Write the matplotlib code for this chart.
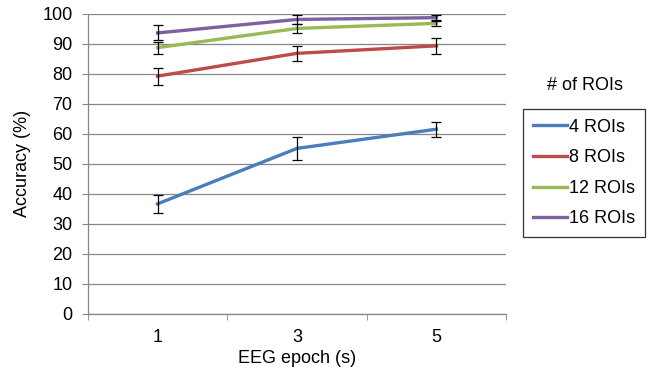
import numpy as np
import matplotlib
matplotlib.use('Agg')
import matplotlib.pyplot as plt

plt.rcParams['font.family'] = ['Liberation Sans', 'DejaVu Sans']

epochs = ['1', '3', '5']
series = ['4 ROIs', '8 ROIs', '12 ROIs', '16 ROIs']
acc_4 = [36.6, 55.1, 61.5]
acc_8 = [79.2, 86.8, 89.3]
acc_12 = [88.7, 95.1, 96.8]
acc_16 = [93.6, 98.1, 98.7]
err_4 = [3.0, 3.9, 2.5]
err_8 = [2.8, 2.6, 2.7]
err_12 = [2.0, 1.5, 1.0]
err_16 = [2.5, 1.4, 1.0]
colors = ['#4A7EBB', '#BE4B48', '#98B954', '#7D60A0']

fig = plt.figure(figsize=(6.6, 3.82), dpi=100)
ax = fig.add_axes([0.133, 0.179, 0.634, 0.785])

x = np.arange(len(epochs))
for vals, errs, lab, col in zip([acc_4, acc_8, acc_12, acc_16],
                                [err_4, err_8, err_12, err_16], series, colors):
    ax.plot(x, vals, color=col, linewidth=2.4, label=lab, zorder=3)
    ax.errorbar(x, vals, yerr=errs, fmt='none', ecolor='black',
                elinewidth=0.9, capsize=3.5, capthick=0.9, zorder=4)

ax.set_xlim(-0.5, 2.5)
ax.set_ylim(0, 100)
ax.set_yticks(np.arange(0, 101, 10))
ax.set_xticks(x)
ax.set_xticklabels(epochs)
ax.set_xticks([-0.5, 0.5, 1.5, 2.5], minor=True)
ax.tick_params(axis='x', which='major', length=0, pad=11, labelsize=13)
ax.tick_params(axis='x', which='minor', length=4, color='#868686', direction='out')
ax.tick_params(axis='y', length=4, color='#868686', labelsize=13, pad=7)
ax.grid(axis='y', color='#868686', linewidth=0.9)
ax.set_axisbelow(True)
for s in ['top', 'right']:
    ax.spines[s].set_visible(False)
for s in ['left', 'bottom']:
    ax.spines[s].set_color('#868686')
    ax.spines[s].set_linewidth(0.9)

ax.set_xlabel('EEG epoch (s)', fontsize=13, labelpad=3)
ax.set_ylabel('Accuracy (%)', fontsize=13, labelpad=8)

fig.text(0.887, 0.775, '# of ROIs', fontsize=13, ha='center', va='center')
leg = ax.legend(loc='upper left', bbox_to_anchor=(0.792, 0.715), bbox_transform=fig.transFigure,
                frameon=True, fancybox=False, edgecolor='black', fontsize=13,
                handlelength=1.9, handletextpad=0.1, labelspacing=0.75, borderpad=0.55,
                borderaxespad=0)
leg.get_frame().set_linewidth(0.9)

fig.savefig('out.png', dpi=100)
